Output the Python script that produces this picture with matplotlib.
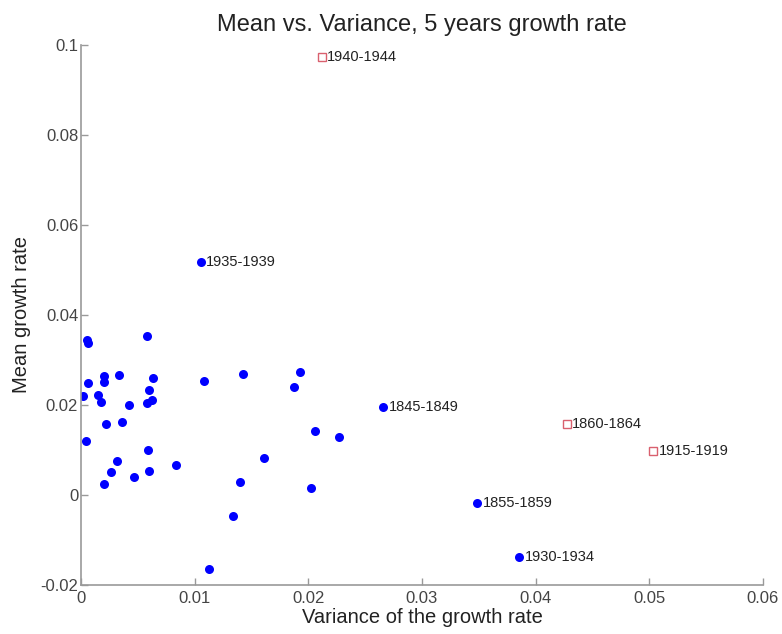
import matplotlib
matplotlib.use("Agg")
import matplotlib.pyplot as plt

plt.rcParams['font.family'] = ['Liberation Sans', 'DejaVu Sans']

# unlabeled 5-year periods (variance, mean)
var_plain = [0.00056, 0.00058, 0.00583, 0.01422, 0.01085, 0.00202, 0.00205, 0.00337,
             0.00064, 0.0063, 0.006, 0.00627, 0.0058, 0.0002, 0.00147, 0.00173,
             0.00425, 0.0022, 0.00358, 0.00041, 0.00587, 0.00319, 0.00261, 0.00466,
             0.006, 0.00205, 0.00836, 0.01398, 0.0134, 0.01926, 0.01873, 0.02061,
             0.02266, 0.0161, 0.0202, 0.01126]
mean_plain = [0.03438, 0.0337, 0.03542, 0.02694, 0.02538, 0.02649, 0.025, 0.02656,
              0.02484, 0.02589, 0.02321, 0.02105, 0.02047, 0.02203, 0.0221, 0.0206,
              0.02002, 0.01578, 0.0163, 0.01205, 0.00998, 0.00752, 0.00513, 0.00395,
              0.00536, 0.00239, 0.00662, 0.0029, -0.00475, 0.02739, 0.02388, 0.01422,
              0.01288, 0.00826, 0.00156, -0.01645]

# labeled periods shown with dots
dot_labels = ['1935-1939', '1845-1849', '1855-1859', '1930-1934']
dot_var = [0.01053, 0.02659, 0.03486, 0.03855]
dot_mean = [0.05185, 0.01964, -0.00179, -0.01377]

# labeled periods shown with open squares
sq_labels = ['1940-1944', '1860-1864', '1915-1919']
sq_var = [0.02117, 0.04272, 0.05034]
sq_mean = [0.0972, 0.01569, 0.00975]

fig = plt.figure(figsize=(7.82, 6.34), dpi=100)
ax = fig.add_axes([0.1036, 0.0773, 0.872, 0.852])

ax.plot(var_plain + dot_var, mean_plain + dot_mean, 'o', color='#0000ff',
        markersize=6.5, markeredgewidth=0, linestyle='none')
ax.plot(sq_var, sq_mean, 's', markerfacecolor='none', markeredgecolor='#d9606e',
        markersize=6, markeredgewidth=1.0, linestyle='none')

for lab, x, y in zip(dot_labels + sq_labels, dot_var + sq_var, dot_mean + sq_mean):
    ax.annotate(lab, (x, y), xytext=(4, 0), textcoords='offset points',
                va='center', ha='left', fontsize=10.5, color='#222222')

ax.set_xlim(0, 0.06)
ax.set_ylim(-0.02, 0.1)
ax.set_xticks([0, 0.01, 0.02, 0.03, 0.04, 0.05, 0.06])
ax.set_yticks([-0.02, 0, 0.02, 0.04, 0.06, 0.08, 0.1])
ax.set_xticklabels(['0', '0.01', '0.02', '0.03', '0.04', '0.05', '0.06'])
ax.set_yticklabels(['-0.02', '0', '0.02', '0.04', '0.06', '0.08', '0.1'])

for side in ['top', 'right']:
    ax.spines[side].set_visible(False)
for side in ['left', 'bottom']:
    ax.spines[side].set_color('#999999')
    ax.spines[side].set_linewidth(1.2)
ax.tick_params(direction='in', length=5, width=1, color='#999999',
               labelsize=12, labelcolor='#444444')
ax.tick_params(axis='x', pad=4)
ax.tick_params(axis='y', pad=2)

ax.set_xlabel('Variance of the growth rate', fontsize=14.5, color='#222222', labelpad=2)
ax.set_ylabel('Mean growth rate', fontsize=14.5, color='#222222', labelpad=7)
ax.set_title('Mean vs. Variance, 5 years growth rate', fontsize=17, color='#222222', pad=10)

fig.savefig('out.png', dpi=100)
